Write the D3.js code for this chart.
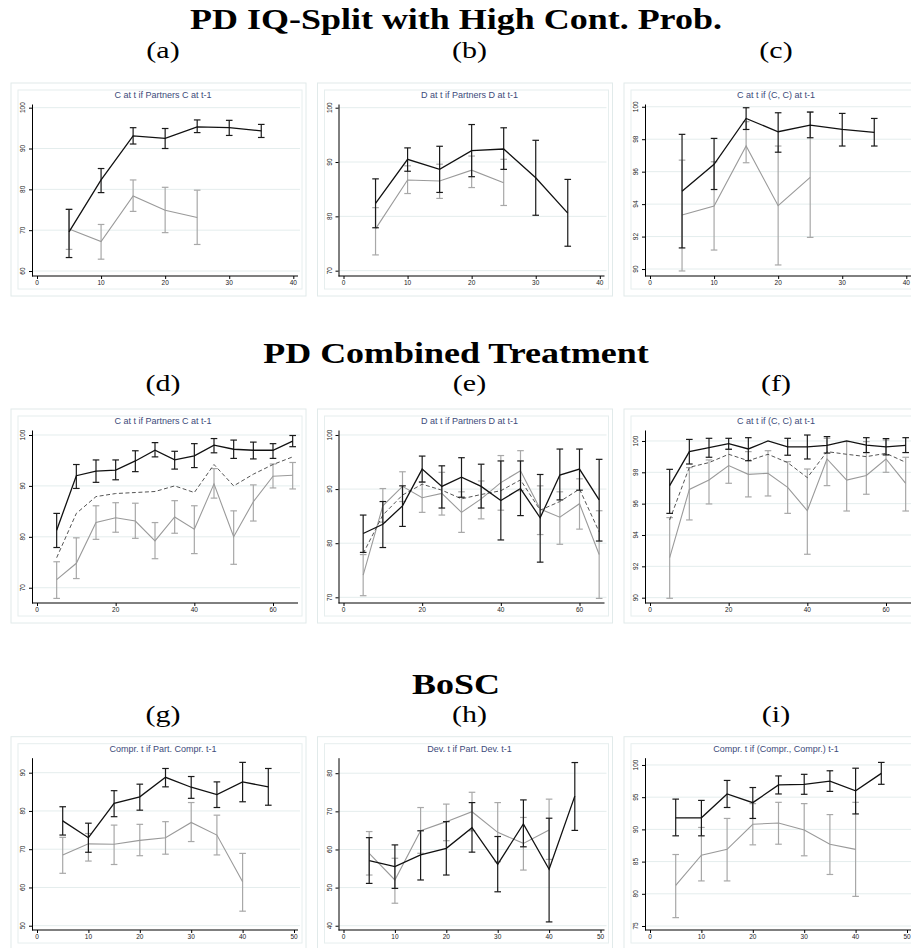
<!DOCTYPE html>
<html><head><meta charset="utf-8">
<script src="https://cdn.jsdelivr.net/npm/d3@7"></script>
<style>body{margin:0;background:#fff;overflow:hidden}</style>
</head><body><svg id="c" width="911" height="948"></svg>
<script>
// ---------- data ----------
const rowTitles = ["PD IQ-Split with High Cont. Prob.", "PD Combined Treatment", "BoSC"];
const panelLabels = ["(a)","(b)","(c)","(d)","(e)","(f)","(g)","(h)","(i)"];
const panelTitles = ["C at t if Partners C at t-1","D at t if Partners D at t-1","C at t if (C, C) at t-1",
  "C at t if Partners C at t-1","D at t if Partners D at t-1","C at t if (C, C) at t-1",
  "Compr. t if Part. Compr. t-1","Dev. t if Part. Dev. t-1","Compr. t if (Compr., Compr.) t-1"];

const xRow1 = [5,10,15,20,25,30,35];
const xRow2 = [5,10,15,20,25,30,35,40,45,50,55,60,65];
const xRow3 = [5,10,15,20,25,30,35,40,45];
const xTicksRow1 = [0,10,20,30,40];
const xTicksRow2 = [0,20,40,60];
const xTicksRow3 = [0,10,20,30,40,50];

// (a)
const aBlack   = [69.6,82.3,93.1,92.5,95.3,95.1,94.3];
const aBlackLo = [63.3,79.2,91.1,90.0,93.9,93.2,92.7];
const aBlackHi = [75.1,85.1,95.1,94.9,97.0,96.9,95.9];
const aGray    = [70.3,67.2,78.4,74.9,73.1];
const aGrayLo  = [65.3,62.9,74.6,69.4,66.5];
const aGrayHi  = [75.1,71.4,82.3,80.5,79.8];
const aYTicks  = [60,70,80,90,100];
// (b)
const bBlack   = [82.4,90.5,88.65,92.1,92.4,87.1,80.6];
const bBlackLo = [77.9,88.3,84.4,87.3,88.65,80.2,74.5];
const bBlackHi = [86.9,92.6,92.9,96.9,96.3,94.0,86.8];
const bGray    = [77.7,86.7,86.5,88.5,86.2];
const bGrayLo  = [72.9,84.2,83.3,85.3,82.0];
const bGrayHi  = [81.6,89.3,89.6,91.1,90.5];
const bYTicks  = [70,80,90,100];
// (c)
const cBlack   = [94.8,96.45,99.28,98.46,98.87,98.6,98.42];
const cBlackLo = [91.3,94.9,98.6,97.2,98.09,97.58,97.58];
const cBlackHi = [98.3,98.05,99.94,99.63,99.67,99.59,99.28];
const cGray    = [93.33,93.88,97.58,93.9,95.65];
const cGrayLo  = [89.88,91.17,96.55,90.25,91.95];
const cGrayHi  = [96.71,96.61,99.08,97.58,99.69];
const cYTicks  = [90,92,94,96,98,100];
// (d)
const dBlack   = [81.3,92.0,92.9,93.1,94.9,97.0,95.1,95.9,98.0,97.2,97.0,97.0,98.8];
const dBlackLo = [77.9,89.5,90.7,91.2,92.8,95.7,93.3,93.6,96.5,95.4,95.3,95.4,97.7];
const dBlackHi = [84.6,94.2,95.1,95.1,96.9,98.5,96.8,98.3,99.3,99.0,98.6,98.3,99.9];
const dDash    = [75.9,84.6,87.9,88.5,88.7,88.9,90.0,88.7,94.2,90.0,92.3,94.2,95.7];
const dGray    = [71.6,74.8,82.8,83.75,83.1,79.2,83.9,81.5,90.4,80.0,86.9,91.9,92.1];
const dGrayLo  = [67.9,71.8,79.5,80.9,79.7,75.7,80.7,76.7,87.6,74.6,83.1,89.6,89.4];
const dGrayHi  = [75.1,79.8,86.1,86.7,86.6,82.8,87.1,86.1,93.4,85.1,90.2,94.3,94.6];
const dYTicks  = [70,80,90,100];
// (e)
const eBlack   = [81.8,83.5,86.9,93.7,90.5,92.2,90.5,87.9,90.1,84.7,92.6,93.7,88.0];
const eBlackLo = [78.3,79.2,83.1,91.3,86.5,88.5,86.5,80.6,85.1,76.5,88.0,89.8,80.4];
const eBlackHi = [85.2,87.7,90.6,96.1,94.3,95.8,94.6,95.2,95.2,92.7,97.4,97.4,95.5];
const eDash    = [78.1,85.2,88.9,90.9,89.8,88.2,89.0,89.7,91.7,86.1,87.7,90.0,82.1];
const eGray    = [74.1,86.9,90.5,88.4,89.2,85.7,88.2,91.2,93.4,86.3,84.8,87.3,77.9];
const eGrayLo  = [70.3,83.9,87.7,85.7,85.2,82.0,84.5,86.1,89.7,81.6,79.8,82.6,69.8];
const eGrayHi  = [77.9,90.1,93.2,91.3,93.1,89.5,91.5,96.2,97.1,90.6,89.5,91.9,86.0];
const eYTicks  = [70,80,90,100];
// (f)
const fBlack   = [97.15,99.32,99.57,99.83,99.49,100.0,99.62,99.62,99.72,100.0,99.74,99.62,99.72];
const fBlackLo = [95.38,98.53,98.96,99.47,98.74,null,99.09,98.85,99.23,null,99.26,99.11,99.26];
const fBlackHi = [98.19,100.1,100.17,100.17,100.21,null,100.17,100.38,100.28,null,100.21,100.15,100.21];
const fDash    = [94.96,98.32,98.62,99.15,98.74,99.15,98.62,97.66,99.32,99.15,99.0,99.21,98.64];
const fGray    = [92.55,96.91,97.51,98.43,97.87,97.94,97.04,95.55,98.85,97.5,97.8,98.85,97.3];
const fGrayLo  = [89.96,94.96,95.98,97.3,96.43,96.49,95.38,92.77,97.15,95.53,96.6,98.0,95.53];
const fGrayHi  = [95.11,98.3,98.79,99.47,99.32,99.38,98.68,98.21,100.17,99.96,99.96,100.06,98.96];
const fYTicks  = [90,92,94,96,98,100];
// (g)
const gBlack   = [77.4,73.0,82.0,83.7,88.8,86.2,84.3,87.6,86.3];
const gBlackLo = [73.7,69.2,78.5,80.2,86.3,83.3,80.9,82.4,81.5];
const gBlackHi = [81.1,76.8,85.3,87.0,91.1,89.0,87.6,92.7,91.1];
const gGray    = [68.5,71.4,71.3,72.3,73.0,77.0,73.7,61.5];
const gGrayLo  = [63.7,66.9,66.0,68.3,68.7,72.0,68.5,53.8];
const gGrayHi  = [73.1,74.1,76.3,76.5,77.2,82.2,78.9,68.9];
const gYTicks  = [50,60,70,80,90];
// (h)
const hBlack   = [57.1,55.5,58.6,60.3,65.7,56.1,66.7,54.8,74.0];
const hBlackLo = [51.1,49.8,52.0,53.3,59.3,48.9,60.7,41.0,65.0];
const hBlackHi = [63.1,61.2,64.9,67.3,72.3,63.4,73.0,68.2,82.8];
const hGray    = [59.0,52.0,64.9,67.3,69.9,64.5,61.6,65.1];
const hGrayLo  = [53.3,45.9,59.0,62.3,64.9,56.8,54.6,57.4];
const hGrayHi  = [64.7,57.7,71.0,71.9,75.0,72.3,68.4,73.2];
const hYTicks  = [40,50,60,70,80];
// (i)
const iBlack   = [91.8,91.8,95.5,94.15,96.9,97.0,97.5,96.0,98.7];
const iBlackLo = [89.0,89.0,93.4,91.7,95.5,95.45,95.9,92.4,97.0];
const iBlackHi = [94.7,94.5,97.6,96.5,98.3,98.55,99.1,99.5,100.4];
const iGray    = [81.3,86.0,86.9,90.8,91.0,89.9,87.7,86.9];
const iGrayLo  = [76.3,82.0,82.0,87.6,87.7,85.9,83.0,79.6];
const iGrayHi  = [86.1,90.3,91.7,94.0,94.2,94.0,92.3,94.2];
const iYTicks  = [75,80,85,90,95,100];

// axis ranges (value extents of each y axis)
const yDomains = [[58.78,100.9],[69.02,100.68],[89.57,100.17],
                  [67.0,100.98],[68.95,100.92],[89.66,100.70],
                  [48.88,93.92],[38.88,84.07],[74.38,101.13]];

// ---------- layout ----------
const axisXs = [32, 338.5, 645];
const rowTop = [104, 430, 757.7], rowBot = [276, 603, 930];
const headerY = [29, 363, 694];
const labelY = [58, 391, 722];
const xDomRow = [[0,40],[0,60],[0,50]];
const xEndRow = [261.3, 241, 262];

const panels = [
  {x:xRow1,b:aBlack,bl:aBlackLo,bh:aBlackHi,g:aGray,gl:aGrayLo,gh:aGrayHi,d:null,yt:aYTicks,xt:xTicksRow1},
  {x:xRow1,b:bBlack,bl:bBlackLo,bh:bBlackHi,g:bGray,gl:bGrayLo,gh:bGrayHi,d:null,yt:bYTicks,xt:xTicksRow1},
  {x:xRow1,b:cBlack,bl:cBlackLo,bh:cBlackHi,g:cGray,gl:cGrayLo,gh:cGrayHi,d:null,yt:cYTicks,xt:xTicksRow1},
  {x:xRow2,b:dBlack,bl:dBlackLo,bh:dBlackHi,g:dGray,gl:dGrayLo,gh:dGrayHi,d:dDash,yt:dYTicks,xt:xTicksRow2},
  {x:xRow2,b:eBlack,bl:eBlackLo,bh:eBlackHi,g:eGray,gl:eGrayLo,gh:eGrayHi,d:eDash,yt:eYTicks,xt:xTicksRow2},
  {x:xRow2,b:fBlack,bl:fBlackLo,bh:fBlackHi,g:fGray,gl:fGrayLo,gh:fGrayHi,d:fDash,yt:fYTicks,xt:xTicksRow2},
  {x:xRow3,b:gBlack,bl:gBlackLo,bh:gBlackHi,g:gGray,gl:gGrayLo,gh:gGrayHi,d:null,yt:gYTicks,xt:xTicksRow3},
  {x:xRow3,b:hBlack,bl:hBlackLo,bh:hBlackHi,g:hGray,gl:hGrayLo,gh:hGrayHi,d:null,yt:hYTicks,xt:xTicksRow3},
  {x:xRow3,b:iBlack,bl:iBlackLo,bh:iBlackHi,g:iGray,gl:iGrayLo,gh:iGrayHi,d:null,yt:iYTicks,xt:xTicksRow3}
];

const svg = d3.select("#c");
const SANS = "'Liberation Sans', Arial, sans-serif";
const SERIF = "'Liberation Serif', 'Times New Roman', serif";

function stretch(sel, k){
  const n = sel.node(); const w = n.getComputedTextLength();
  sel.attr("textLength", w*k).attr("lengthAdjust","spacingAndGlyphs");
}

// row headers
rowTitles.forEach((t,r)=>{
  const h = svg.append("text").attr("x",456).attr("y",headerY[r]).attr("text-anchor","middle")
    .attr("font-family",SERIF).attr("font-weight","bold").attr("font-size",29).attr("fill","#000").text(t);
  stretch(h,1.24);
});

panels.forEach((p,i)=>{
  const row = Math.floor(i/3), col = i%3;
  const ax = axisXs[col], top = rowTop[row], bot = rowBot[row];
  const g = svg.append("g");
  // label
  const lb = g.append("text").attr("x",ax+131).attr("y",labelY[row]).attr("text-anchor","middle")
    .attr("font-family",SERIF).attr("font-size",24).attr("fill","#000").text(panelLabels[i]);
  stretch(lb,1.25);
  // boxes
  g.append("rect").attr("x",ax-21).attr("y",top-21).attr("width",295).attr("height",bot-top+41)
    .attr("fill","#fff").attr("stroke","#e1eaea").attr("stroke-width",1);
  g.append("rect").attr("x",ax-14).attr("y",top-14).attr("width",284).attr("height",bot-top+27)
    .attr("fill","#fff").attr("stroke","#e6eeee").attr("stroke-width",1);

  const xs = d3.scaleLinear().domain(xDomRow[row]).range([ax+5, ax+xEndRow[row]]);
  const ys = d3.scaleLinear().domain(yDomains[i]).range([bot, top]);

  // grid
  g.selectAll(".grid").data(p.yt).join("line")
    .attr("x1",ax).attr("x2",ax+268).attr("y1",d=>ys(d)).attr("y2",d=>ys(d))
    .attr("stroke","#e4eded").attr("stroke-width",1);

  // title
  g.append("text").attr("x",ax+131).attr("y",top-6).attr("text-anchor","middle")
    .attr("font-family",SANS).attr("font-size",9).attr("fill","#3c4a7a").text(panelTitles[i]);

  // axes
  const ya = g.append("g").attr("transform",`translate(${ax},0)`)
    .call(d3.axisLeft(ys).tickValues(p.yt).tickSize(3).tickSizeOuter(0).tickFormat(""));
  ya.select(".domain").attr("stroke","#000");
  ya.selectAll(".tick line").attr("stroke","#000");
  g.selectAll(".ylab").data(p.yt).join("text")
    .attr("transform",d=>`translate(${ax-9},${ys(d)}) rotate(-90)`)
    .attr("text-anchor","middle").attr("dy","0.35em")
    .attr("font-family",SANS).attr("font-size",6.5).attr("fill","#222").text(d=>d);

  const xa = g.append("g").attr("transform",`translate(0,${bot})`)
    .call(d3.axisBottom(xs).tickValues(p.xt).tickSize(3).tickSizeOuter(0).tickFormat(""));
  xa.select(".domain").remove();
  xa.selectAll(".tick line").attr("stroke","#000");
  g.append("line").attr("x1",ax).attr("x2",ax+266).attr("y1",bot).attr("y2",bot).attr("stroke","#000");
  g.selectAll(".xlab").data(p.xt).join("text")
    .attr("x",d=>xs(d)).attr("y",bot+9).attr("text-anchor","middle")
    .attr("font-family",SANS).attr("font-size",6.5).attr("fill","#222").text(d=>d);

  function bars(mean, lo, hi, color){
    const idx = mean.map((_,k)=>k).filter(k=>lo[k]!=null && hi[k]!=null);
    const gg = g.append("g").attr("stroke",color).attr("stroke-width",1.2).attr("fill","none");
    gg.selectAll(".v").data(idx).join("line")
      .attr("x1",k=>xs(p.x[k])).attr("x2",k=>xs(p.x[k])).attr("y1",k=>ys(lo[k])).attr("y2",k=>ys(hi[k]));
    gg.selectAll(".cl").data(idx).join("line")
      .attr("x1",k=>xs(p.x[k])-3.3).attr("x2",k=>xs(p.x[k])+3.3).attr("y1",k=>ys(lo[k])).attr("y2",k=>ys(lo[k]));
    gg.selectAll(".ch").data(idx).join("line")
      .attr("x1",k=>xs(p.x[k])-3.3).attr("x2",k=>xs(p.x[k])+3.3).attr("y1",k=>ys(hi[k])).attr("y2",k=>ys(hi[k]));
  }
  const line = d3.line().x((d,k)=>xs(p.x[k])).y(d=>ys(d));

  bars(p.g, p.gl, p.gh, "#a8a8a8");
  g.append("path").attr("d",line(p.g)).attr("fill","none").attr("stroke","#9a9a9a").attr("stroke-width",1.1);
  if (p.d) g.append("path").attr("d",line(p.d)).attr("fill","none").attr("stroke","#555")
      .attr("stroke-width",1).attr("stroke-dasharray","4,2.5");
  bars(p.b, p.bl, p.bh, "#1a1a1a");
  g.append("path").attr("d",line(p.b)).attr("fill","none").attr("stroke","#111").attr("stroke-width",1.3);
});
</script>
</body></html>
